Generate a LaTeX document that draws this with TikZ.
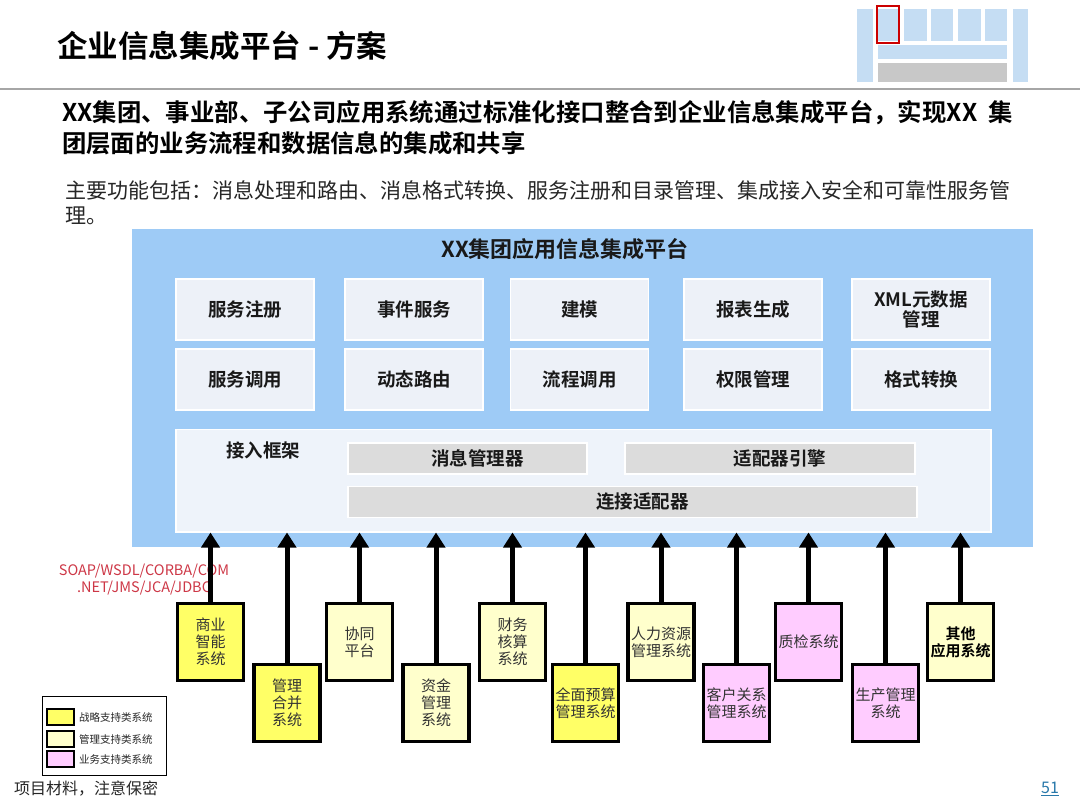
\documentclass[tikz,border=0pt]{standalone}
\usepackage{fontspec}
\setmainfont{Noto Sans CJK SC}[BoldFont={Noto Sans CJK SC Bold}]
\usepackage{xcolor}
\usetikzlibrary{arrows.meta, positioning}

\definecolor{platblue}{RGB}{158,203,246}
\definecolor{cellfill}{RGB}{237,241,248}
\definecolor{framefill}{RGB}{238,243,250}
\definecolor{mgrgray}{RGB}{220,220,220}
\definecolor{stratY}{RGB}{255,255,102}
\definecolor{mgmtY}{RGB}{255,255,204}
\definecolor{bizP}{RGB}{255,204,255}
\definecolor{protored}{RGB}{205,55,70}
\definecolor{pagenum}{RGB}{40,120,170}
\definecolor{thumbblue}{RGB}{197,221,243}
\definecolor{thumbgray}{RGB}{200,200,200}

\newcommand{\fTitle}{\fontsize{30.5}{36}\selectfont\bfseries}
\newcommand{\fLead}{\fontsize{24.4}{30}\selectfont\bfseries}
\newcommand{\fBody}{\fontsize{21}{26}\selectfont}
\newcommand{\fPlat}{\fontsize{22}{26}\selectfont\bfseries}
\newcommand{\fCell}{\fontsize{18.5}{20}\selectfont\bfseries}
\newcommand{\fSys}{\fontsize{15}{17}\selectfont}
\newcommand{\fProto}{\fontsize{14.5}{17}\selectfont}
\newcommand{\fLegend}{\fontsize{10.5}{12}\selectfont}
\newcommand{\fFoot}{\fontsize{16}{19}\selectfont}

\tikzset{
  textline/.style={anchor=west, inner sep=0pt},
  cell/.style={rectangle, fill=cellfill, draw=white, line width=1.5pt, minimum width=138pt, minimum height=61pt, inner sep=0pt, align=center, font=\fCell, text=black!90},
  mgr/.style={rectangle, fill=mgrgray, draw=white, line width=1.5pt, minimum height=31pt, inner sep=0pt, font=\fCell, text=black!90, execute at begin node=\hspace*{20pt}},
  sysbox/.style={rectangle, draw=black, line width=3.5pt, minimum width=66pt, minimum height=77pt, inner sep=0pt, align=center},
  sysplain/.style={font=\fSys, text=black!80},
  sysbold/.style={font=\fSys\bfseries, text=black},
  sysarrow/.style={-{Triangle[length=15pt, width=18pt]}, line width=5pt},
  swatch/.style={rectangle, draw=black, line width=1.2pt, minimum width=27pt, minimum height=16pt, inner sep=0pt},
}

\begin{document}
\begin{tikzpicture}[x=1pt, y=-1pt]
  \useasboundingbox (0,0) rectangle (1080,810);

  % Header
  \node[textline, font=\fTitle] (title) at (57,46) {企业信息集成平台 - 方案};
  \draw[gray!70, line width=1.5pt] (0,89) -- (1080,89);

  % Thumbnail (top right)
  \begin{scope}[fill=thumbblue, draw=white, line width=0.8pt]
    \filldraw (856,8) rectangle (873,82);
    \filldraw (877,8) rectangle (899,41);
    \filldraw (903,8) rectangle (927,41);
    \filldraw (930,8) rectangle (953,41);
    \filldraw (957,8) rectangle (981,41);
    \filldraw (984,8) rectangle (1007,41);
    \filldraw (877,44) rectangle (1007,59);
    \filldraw[fill=thumbgray] (877,62) rectangle (1007,82);
    \filldraw (1012,8) rectangle (1028,82);
  \end{scope}
  \draw[red!80!black, line width=2.5pt] (877,6) rectangle (899,43);

  % Lead text
  \node[textline, font=\fLead] (lead1) at (62,113) {XX集团、事业部、子公司应用系统通过标准化接口整合到企业信息集成平台，实现XX\ \ 集};
  \node[textline, font=\fLead] (lead2) at (62,143) {团层面的业务流程和数据信息的集成和共享};
  \node[textline, font=\fBody, text=black!85] (body1) at (65,190) {主要功能包括：消息处理和路由、消息格式转换、服务注册和目录管理、集成接入安全和可靠性服务管};
  \node[textline, font=\fBody, text=black!85] (body2) at (65,216) {理。};

  % Platform
  \node[fill=platblue, anchor=north west, inner sep=0pt, minimum width=901pt, minimum height=318pt] (plat) at (132,229) {};
  \node[font=\fPlat, text=black!90] (platTitle) at (565,249) {XX集团应用信息集成平台};

  \foreach \cx/\txt [count=\i] in {245/服务注册, 414/事件服务, 579.5/建模, 753/报表生成, 921/{XML元数据\\管理}} {
    \node[cell] (top\i) at (\cx,309.5) {\txt};
  }
  \foreach \cx/\txt [count=\i] in {245/服务调用, 414/动态路由, 579.5/流程调用, 753/权限管理, 921/格式转换} {
    \node[cell] (bot\i) at (\cx,379.5) {\txt};
  }

  % Access framework
  \node[fill=framefill, draw=white, line width=1.5pt, anchor=north west, inner sep=0pt, minimum width=815pt, minimum height=102pt] (frame) at (175,429) {};
  \node[font=\fCell, text=black!90] (frameTitle) at (263,450) {接入框架};
  \node[mgr, minimum width=239pt] (msgmgr) at (467.5,458.5) {消息管理器};
  \node[mgr, minimum width=290pt] (adpeng) at (770,458.5) {适配器引擎};
  \node[mgr, minimum width=569pt] (conn) at (632.5,502) {连接适配器};

  % Protocols
  \node[font=\fProto, text=protored, align=center] (proto) at (144,580) {SOAP/WSDL/CORBA/COM\\.NET/JMS/JCA/JDBC};

  % Application systems
  \foreach \cx/\cy/\col/\kind/\txt [count=\i] in {
      210.5/642/stratY/sysplain/{商业\\智能\\系统},
      287/703/stratY/sysplain/{管理\\合并\\系统},
      359.5/642/mgmtY/sysplain/{协同\\平台},
      436/703/mgmtY/sysplain/{资金\\管理\\系统},
      512.5/642/mgmtY/sysplain/{财务\\核算\\系统},
      585.5/703/stratY/sysplain/{全面预算\\管理系统},
      661/642/mgmtY/sysplain/{人力资源\\管理系统},
      736.5/703/bizP/sysplain/{客户关系\\管理系统},
      808.5/642/bizP/sysplain/{质检系统},
      885.5/703/bizP/sysplain/{生产管理\\系统},
      960.5/642/mgmtY/sysbold/{其他\\应用系统}} {
    \node[sysbox, fill=\col, \kind] (sys\i) at (\cx,\cy) {\txt};
    \draw[sysarrow] (sys\i.north) -- (sys\i.north |- frame.south);
  }

  % Legend
  \node[draw=black, line width=0.8pt, anchor=north west, inner sep=0pt, minimum width=124pt, minimum height=79pt] (legend) at (42,696) {};
  \foreach \cy/\col/\txt [count=\i] in {717/stratY/战略支持类系统, 739/mgmtY/管理支持类系统, 759/bizP/业务支持类系统} {
    \node[swatch, fill=\col] (sw\i) at (60.5,\cy) {};
    \node[textline, font=\fLegend, text=black!85] (lg\i) at (79,\cy) {\txt};
  }

  % Footer
  \node[textline, font=\fFoot, text=black!85] (foot) at (14,789) {项目材料，注意保密};
  \node[font=\fFoot, text=pagenum] (page) at (1050,789) {\underline{51}};
\end{tikzpicture}
\end{document}
